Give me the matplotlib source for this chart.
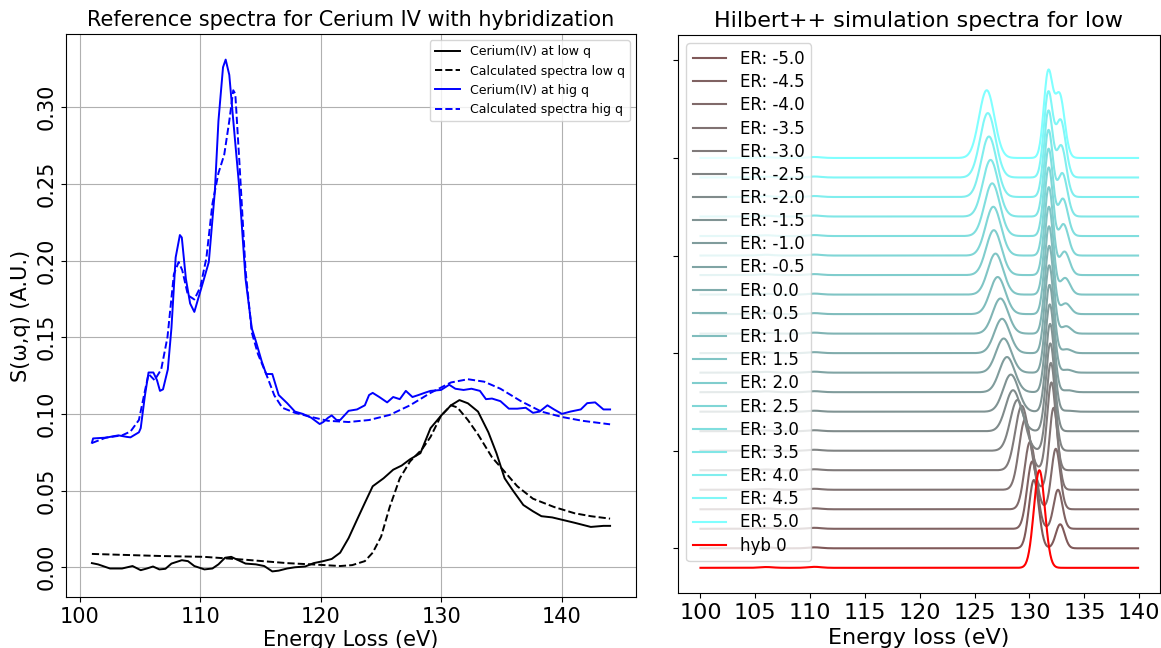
import numpy as np
import matplotlib
matplotlib.use("Agg")
import matplotlib.pyplot as plt

# ---------------- Left panel data ----------------
low_q_x = [101.0, 101.5, 102.5, 103.5, 104.37, 105.05, 105.56, 106.07, 106.6, 107.1, 107.6,
           108.46, 108.97, 109.5, 110.34, 111.0, 111.5, 112.05, 112.56, 113.07, 113.75, 114.6,
           115.3, 115.97, 116.5, 117.2, 117.85, 118.7, 119.4, 120.2, 120.9, 121.6, 122.3, 123.0,
           123.65, 124.3, 125.2, 126.0, 126.7, 127.4, 128.26, 129.1, 129.97, 130.8, 131.5,
           132.2, 133.04, 133.9, 134.57, 135.25, 135.94, 136.8, 137.6, 138.3, 139.2, 140.0,
           141.06, 142.4, 143.45, 144.0]
low_q_y = [0.0027, 0.0019, -0.0008, -0.0008, 0.0008, -0.0019, -0.0008, 0.0005, -0.0014, -0.001,
           0.0024, 0.0046, 0.004, 0.0008, -0.0014, -0.0008, 0.0019, 0.0062, 0.0068, 0.0049, 0.0024,
           0.0019, 0.0008, -0.0027, -0.0022, -0.0008, 0.0, 0.0005, 0.0027, 0.004, 0.0054, 0.0095,
           0.019, 0.031, 0.042, 0.0528, 0.058, 0.0636, 0.0663, 0.0704, 0.0744, 0.0907, 0.0988,
           0.1056, 0.109, 0.1069, 0.1015, 0.088, 0.0744, 0.058, 0.050, 0.0406, 0.0365, 0.0333,
           0.0325, 0.031, 0.029, 0.0263, 0.027, 0.027]

calc_low_x = [101.0, 103.5, 106.9, 110.3, 113.75, 117.2, 119.9, 121.6, 122.6, 123.65, 124.3,
              125.0, 125.7, 126.55, 127.4, 128.4, 129.1, 129.97, 130.8, 131.33, 132.2, 133.04,
              134.2, 135.25, 136.3, 137.6, 139.35, 141.06, 142.4, 144.0]
calc_low_y = [0.0087, 0.0081, 0.0073, 0.0068, 0.0049, 0.0027, 0.0016, 0.0008, 0.0014, 0.004,
              0.0095, 0.020, 0.039, 0.058, 0.069, 0.077, 0.085, 0.0988, 0.1056, 0.1042, 0.096,
              0.0866, 0.0717, 0.0623, 0.0528, 0.0447, 0.0393, 0.0352, 0.0333, 0.0317]

high_q_x = [101.0, 101.1, 102.15, 103.2, 103.9, 104.2, 104.9, 105.05, 105.4, 105.7, 106.1, 106.4,
            106.65, 106.9, 107.3, 107.6, 107.95, 108.3, 108.46, 108.8, 109.15, 109.5, 109.8,
            110.3, 110.7, 111.2, 111.5, 111.88, 112.1, 112.4, 112.7, 113.2, 113.75, 114.27,
            114.6, 115.1, 115.46, 115.97, 116.5, 117.2, 117.85, 118.5, 119.2, 119.9, 120.2,
            120.6, 120.9, 121.3, 121.6, 122.3, 123.0, 123.65, 124.0, 124.3, 124.85, 125.5,
            126.0, 126.55, 127.05, 127.6, 128.1, 128.6, 129.1, 129.97, 130.65, 131.16, 131.84,
            132.5, 133.2, 133.7, 134.2, 134.9, 135.6, 136.3, 137.0, 137.6, 138.15, 138.8,
            139.35, 140.0, 140.7, 141.57, 142.1, 142.76, 143.45, 144.0]
high_q_y = [0.0812, 0.084, 0.0845, 0.086, 0.085, 0.0847, 0.088, 0.0907, 0.112, 0.127, 0.127,
            0.122, 0.115, 0.116, 0.129, 0.156, 0.202, 0.2166, 0.215, 0.188, 0.172, 0.1665,
            0.1746, 0.188, 0.199, 0.245, 0.291, 0.326, 0.331, 0.321, 0.294, 0.25, 0.188, 0.1557,
            0.1475, 0.134, 0.126, 0.126, 0.1123, 0.107, 0.1015, 0.100, 0.0975, 0.0934, 0.0947,
            0.0975, 0.099, 0.096, 0.096, 0.102, 0.1029, 0.1056, 0.1123, 0.1137, 0.111, 0.1075,
            0.111, 0.1096, 0.115, 0.111, 0.1123, 0.1137, 0.115, 0.1156, 0.119, 0.1164, 0.1156,
            0.1164, 0.115, 0.1096, 0.110, 0.1083, 0.1034, 0.1034, 0.104, 0.1007, 0.1015, 0.1056,
            0.1029, 0.100, 0.1015, 0.1029, 0.107, 0.1075, 0.1029, 0.1029]

calc_high_x = [101.0, 102.15, 103.5, 104.2, 104.9, 105.4, 105.7, 106.2, 106.75, 107.27, 107.8,
               108.2, 108.5, 108.97, 109.5, 110.0, 110.5, 111.0, 111.5, 111.98, 112.4, 112.73,
               112.9, 113.24, 113.75, 114.27, 114.78, 115.46, 116.14, 116.8, 117.85, 119.2,
               120.58, 122.3, 124.0, 125.7, 127.4, 129.1, 130.8, 132.2, 133.55, 134.9, 136.6,
               138.3, 140.0, 141.7, 144.0]
calc_high_y = [0.081, 0.0845, 0.086, 0.0885, 0.096, 0.115, 0.126, 0.122, 0.129, 0.150, 0.191,
               0.199, 0.1936, 0.1773, 0.1746, 0.1827, 0.2017, 0.237, 0.257, 0.269, 0.291, 0.311,
               0.3086, 0.264, 0.1936, 0.153, 0.139, 0.126, 0.112, 0.104, 0.1007, 0.098, 0.0955,
               0.0947, 0.096, 0.0993, 0.1056, 0.1137, 0.1205, 0.1226, 0.121, 0.1164, 0.1083,
               0.1015, 0.098, 0.0955, 0.0932]

# ---------------- Right panel data (peak parameters) ----------------
er_values = [-5.0, -4.5, -4.0, -3.5, -3.0, -2.5, -2.0, -1.5, -1.0, -0.5, 0.0,
             0.5, 1.0, 1.5, 2.0, 2.5, 3.0, 3.5, 4.0, 4.5, 5.0]
peakA_pos = [130.4, 130.25, 130.05, 129.6, 129.3, 128.9, 128.5, 128.3, 127.95, 127.65, 127.5,
             127.35, 127.1, 126.9, 126.75, 126.7, 126.6, 126.45, 126.3, 126.2, 126.1]
peakA_height = [3.5, 3.45, 3.45, 3.6, 3.3, 2.6, 2.1, 1.9, 1.8, 1.75, 1.76,
                1.8, 1.9, 2.1, 2.3, 2.5, 2.7, 2.9, 3.1, 3.3, 3.47]
peakA_width = [0.45, 0.47, 0.5, 0.55, 0.6, 0.65, 0.68, 0.7, 0.7, 0.7, 0.7,
               0.7, 0.7, 0.7, 0.7, 0.7, 0.7, 0.7, 0.7, 0.7, 0.7]
peakB_pos = [132.8, 132.6, 132.4, 132.2, 132.0, 131.95, 131.9, 131.88, 131.85, 131.83, 131.8,
             131.8, 131.78, 131.77, 131.76, 131.75, 131.74, 131.73, 131.72, 131.71, 131.7]
peakB_height = [1.23, 2.0, 3.1, 4.2, 4.5, 4.5, 4.5, 4.5, 4.5, 4.5, 4.5,
                4.5, 4.5, 4.5, 4.5, 4.5, 4.45, 4.4, 4.35, 4.3, 4.3]
shoulder_pos = [133.5, 133.5, 133.5, 133.5, 133.5, 133.5, 133.5, 133.5, 133.5, 133.45, 133.4,
                133.35, 133.3, 133.25, 133.2, 133.1, 133.05, 133.0, 132.9, 132.85, 132.75]
shoulder_height = [0.0, 0.0, 0.0, 0.0, 0.0, 0.0, 0.0, 0.05, 0.1, 0.15, 0.2,
                   0.38, 0.55, 0.85, 1.2, 1.6, 1.9, 2.2, 2.6, 2.9, 3.2]
hyb_pos = 130.9
hyb_height = 5.0
hyb_width = 0.5
small_bump_pos = [106.0, 110.4]
small_bump_height = [0.04, 0.05]
curve_offset_step = 1.0

color_low = np.array([0.50, 0.35, 0.35])
color_high = np.array([0.50, 1.00, 1.00])

energy = np.arange(100.0, 139.95, 0.05)


def gauss(x, mu, h, s):
    return h * np.exp(-0.5 * ((x - mu) / s) ** 2)


def bumps(x):
    out = np.zeros_like(x)
    for p, h in zip(small_bump_pos, small_bump_height):
        out += gauss(x, p, h, 0.6)
    return out


fig = plt.figure(figsize=(11.61, 6.48), dpi=100)
W, H = 1161.0, 648.0
ax1 = fig.add_axes([66 / W, (H - 597) / H, (636 - 66) / W, (597 - 34) / H])
ax2 = fig.add_axes([678 / W, (H - 593) / H, (1160 - 678) / W, (593 - 35) / H])

# Left panel
ax1.plot(low_q_x, low_q_y, color="black", lw=1.4, label="Cerium(IV) at low q")
ax1.plot(calc_low_x, calc_low_y, color="black", lw=1.4, ls="--", label="Calculated spectra low q")
ax1.plot(high_q_x, high_q_y, color="blue", lw=1.4, label="Cerium(IV) at hig q")
ax1.plot(calc_high_x, calc_high_y, color="blue", lw=1.4, ls="--", label="Calculated spectra hig q")
ax1.grid(True)
ax1.set_title("Reference spectra for Cerium IV with hybridization", fontsize=15)
ax1.set_xlabel("Energy Loss (eV)", fontsize=15, labelpad=2)
ax1.set_ylabel("S(ω,q) (A.U.)", fontsize=15)
ax1.tick_params(axis="both", labelsize=15)
for lab in ax1.get_yticklabels():
    lab.set_rotation(90)
    lab.set_va("center")
ax1.legend(loc="upper right", fontsize=9)

# Right panel
n = len(er_values)
for i, er in enumerate(er_values):
    t = i / (n - 1)
    col = tuple(color_low * (1 - t) + color_high * t)
    spec = (gauss(energy, peakA_pos[i], peakA_height[i], peakA_width[i])
            + gauss(energy, peakB_pos[i], peakB_height[i], 0.4)
            + gauss(energy, shoulder_pos[i], shoulder_height[i], 0.45)
            + bumps(energy))
    ax2.plot(energy, spec + i * curve_offset_step, color=col, lw=1.5, label=f"ER: {er}")
hyb = gauss(energy, hyb_pos, hyb_height, hyb_width) + bumps(energy)
ax2.plot(energy, hyb - curve_offset_step, color="red", lw=1.5, label="hyb 0")
ax2.set_xlim(97.95, 141.9)
ax2.set_ylim(-2.29, 26.3)
ax2.set_xticks(np.arange(100, 141, 5))
ax2.set_yticks(np.arange(0, 26, 5))
ax2.set_yticklabels([])
ax2.tick_params(axis="x", labelsize=16)
ax2.set_title("Hilbert++ simulation spectra for low", fontsize=16)
ax2.set_xlabel("Energy loss (eV)", fontsize=16)
ax2.legend(loc="upper left", fontsize=12, labelspacing=0.31)

fig.savefig("out.png", dpi=100)
